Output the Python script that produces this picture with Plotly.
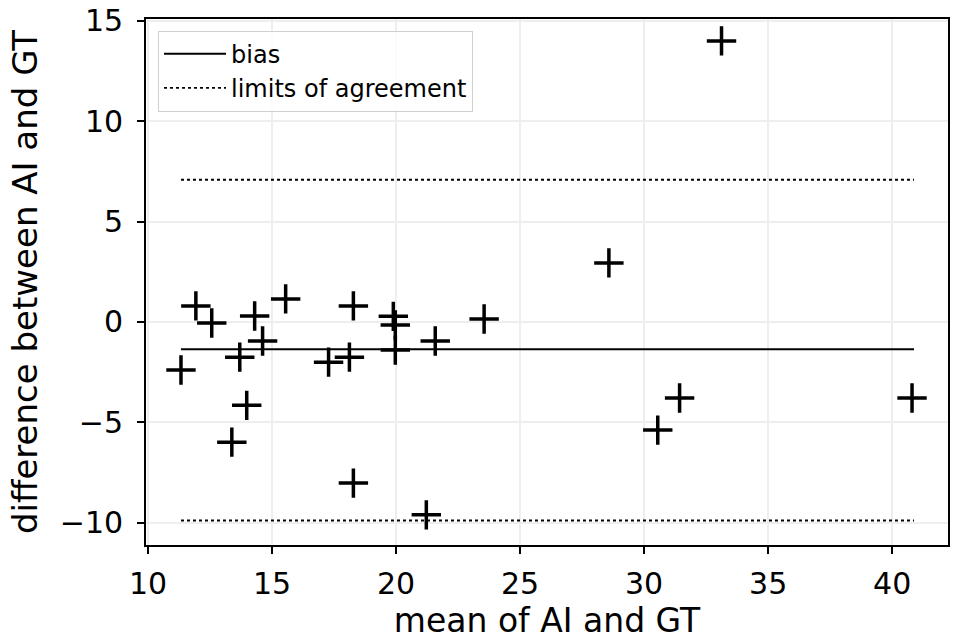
import plotly.graph_objects as go

# Bland-Altman data
mean_vals = [11.33, 11.93, 12.57, 13.38, 13.70, 13.98, 14.30, 14.62, 15.55,
             17.28, 18.12, 18.28, 18.28, 19.89, 19.97, 19.97, 21.22, 21.58,
             23.55, 28.58, 30.55, 31.43, 33.12, 40.80]
diff_vals = [-2.39, 0.80, -0.05, -5.98, -1.75, -4.15, 0.30, -0.95, 1.15,
             -2.00, -1.75, 0.80, -8.02, 0.28, -0.15, -1.40, -9.60, -0.95,
             0.15, 2.94, -5.38, -3.78, 13.99, -3.78]
bias = -1.36
loa_upper = 7.08
loa_lower = -9.88
line_x = [min(mean_vals), max(mean_vals) + 0.08]

x_ticks = [10, 15, 20, 25, 30, 35, 40]
y_ticks = [-10, -5, 0, 5, 10, 15]
y_ticktext = ["−10", "−5", "0", "5", "10", "15"]

FONT = "DejaVu Sans"

fig = go.Figure()

fig.add_trace(go.Scatter(
    x=line_x, y=[bias, bias], mode="lines", name="bias",
    line=dict(color="black", width=2), showlegend=True,
))
fig.add_trace(go.Scatter(
    x=[line_x[0], line_x[1], None, line_x[0], line_x[1]],
    y=[loa_upper, loa_upper, None, loa_lower, loa_lower],
    mode="lines", name="limits of agreement",
    line=dict(color="black", width=1.8, dash="dot"), showlegend=True,
))
fig.add_trace(go.Scatter(
    x=mean_vals, y=diff_vals, mode="markers", showlegend=False,
    marker=dict(symbol="cross-thin", size=21, line=dict(color="black", width=3.5)),
))

axis_common = dict(
    showline=True, linecolor="black", linewidth=1.8, mirror=True,
    ticks="outside", ticklen=7, tickwidth=1.8, tickcolor="black",
    showgrid=True, gridcolor="#eeeeee", gridwidth=1.5, zeroline=False,
    tickfont=dict(family=FONT, size=30, color="black"),
)

fig.update_layout(
    width=953, height=640,
    margin=dict(l=146, r=3, t=19, b=95),
    paper_bgcolor="white", plot_bgcolor="white",
    font=dict(family=FONT, color="black"),
    xaxis=dict(range=[9.92, 42.25], tickvals=x_ticks, ticklabelstandoff=4,
               title=dict(text="mean of AI and GT", font=dict(family=FONT, size=33), standoff=6),
               **axis_common),
    yaxis=dict(range=[-11.1, 15.08], tickvals=y_ticks, ticktext=y_ticktext, ticklabelstandoff=8,
               title=dict(text="difference between AI and GT", font=dict(family=FONT, size=34), standoff=12),
               **axis_common),
    legend=dict(x=0.015, y=0.978, xanchor="left", yanchor="top",
                bgcolor="rgba(255,255,255,0.8)", bordercolor="#d0d0d0", borderwidth=1,
                font=dict(family=FONT, size=24, color="black"), tracegroupgap=0,
                itemwidth=62),
)

fig.write_html("out.html")
